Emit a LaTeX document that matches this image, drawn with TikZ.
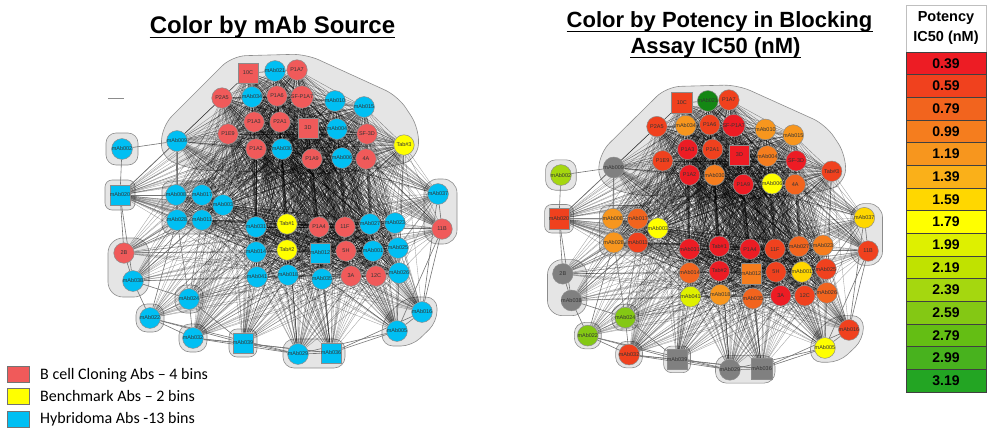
\documentclass[tikz,border=0pt]{standalone}
\usepackage{fontspec}
\setmainfont{Liberation Sans}
\newfontfamily\calib{Carlito}
\pgfdeclarelayer{hull}
\pgfdeclarelayer{edges}
\pgfsetlayers{hull,edges,main}
\definecolor{Lred}{RGB}{240,90,90}
\definecolor{Lblue}{RGB}{0,191,243}
\definecolor{Lyel}{RGB}{255,255,0}
\definecolor{Ngray}{RGB}{128,128,128}
\definecolor{dgreen}{RGB}{20,135,20}
\definecolor{c039}{RGB}{237,28,36}
\definecolor{c059}{RGB}{240,65,30}
\definecolor{c079}{RGB}{242,100,30}
\definecolor{c099}{RGB}{245,125,30}
\definecolor{c119}{RGB}{247,150,30}
\definecolor{c139}{RGB}{250,176,25}
\definecolor{c159}{RGB}{255,215,0}
\definecolor{c179}{RGB}{255,255,0}
\definecolor{c199}{RGB}{222,240,0}
\definecolor{c219}{RGB}{192,226,0}
\definecolor{c239}{RGB}{165,215,15}
\definecolor{c259}{RGB}{132,200,20}
\definecolor{c279}{RGB}{100,190,20}
\definecolor{c299}{RGB}{72,178,30}
\definecolor{c319}{RGB}{35,165,35}

\def\netnodes{n10C/248/73/rectangle/Lred/c059/10C,
nmAb021/275/71/circle/Lblue/dgreen/mAb021,
nP1A7/297/70/circle/Lred/c059/P1A7,
nP2A5/222/98/circle/Lred/c059/P2A5,
nmAb034/252/97/circle/Lblue/c119/mAb034,
nP1A6/277/96/circle/Lred/c059/P1A6,
nSFP1A7/302/97/circle/Lred/c039/SF-P1A7,
nP1A3/254/122/circle/Lred/c039/P1A3,
nP2A1/280/122/circle/Lred/c059/P2A1,
nP1E9/228/134/circle/Lred/c059/P1E9,
n3D/308/128/rectangle/Lred/c039/3D,
nP1A2/256/149/circle/Lred/c039/P1A2,
nmAb030/282/149/circle/Lblue/c099/mAb030,
nmAb010/335/101/circle/Lblue/c119/mAb010,
nmAb015/364/107/circle/Lblue/c119/mAb015,
nmAb004/337/129/circle/Lblue/c099/mAb004,
nSF3D/367/134/circle/Lred/c039/SF-3D,
nTab3/404/145/circle/Lyel/c059/Tab\#3,
nP1A9/312/159/circle/Lred/c039/P1A9,
nmAb006/342/158/circle/Lblue/c179/mAb006,
n4A/366/159/circle/Lred/c079/4A,
nmAb009/177/141/circle/Lblue/Ngray/mAb009,
nmAb002/122/149/circle/Lblue/c239/mAb002,
nmAb020/120/195/rectangle/Lblue/c059/mAb020,
nmAb008/176/195/circle/Lblue/c119/mAb008,
nmAb017/202/195/circle/Lblue/c079/mAb017,
nmAb003/223/205/circle/Lblue/c179/mAb003,
nmAb028/177/220/circle/Lblue/c119/mAb028,
nmAb011/202/220/circle/Lblue/c059/mAb011,
nmAb031/256/227/circle/Lblue/c039/mAb031,
nTab1/287/224/circle/Lyel/c039/Tab\#1,
n2B/124/253/circle/Lred/Ngray/2B,
nmAb014/256/252/circle/Lblue/c079/mAb014,
nTab2/287/250/circle/Lyel/c039/Tab\#2,
nmAb038/133/281/circle/Lblue/Ngray/mAb038,
nmAb041/257/277/circle/Lblue/c199/mAb041,
nmAb018/288/275/circle/Lblue/c119/mAb018,
nmAb024/189/299/circle/Lblue/c259/mAb024,
nmAb022/150/318/circle/Lblue/c259/mAb022,
nmAb032/193/338/circle/Lblue/c059/mAb032,
nmAb039/243/343/rectangle/Lblue/Ngray/mAb039,
nmAb029/298/354/circle/Lblue/Ngray/mAb029,
nmAb036/331/353/rectangle/Lblue/Ngray/mAb036,
nmAb037/438/194/circle/Lblue/c159/mAb037,
nP1A4/319/227/circle/Lred/c039/P1A4,
n11F/345/227/circle/Lred/c059/11F,
nmAb027/370/224/circle/Lblue/c079/mAb027,
nmAb023/395/223/circle/Lblue/c099/mAb023,
n11B/442/229/circle/Lred/c059/11B,
nmAb012/320/253/rectangle/Lblue/c099/mAb012,
n5H/346/251/circle/Lred/c059/5H,
nmAb001/373/251/circle/Lblue/c159/mAb001,
nmAb025/398/248/circle/Lblue/c059/mAb025,
nmAb035/322/279/circle/Lblue/c079/mAb035,
n3A/351/276/circle/Lred/c039/3A,
n12C/376/276/circle/Lred/c059/12C,
nmAb026/399/273/circle/Lblue/c079/mAb026,
nmAb016/422/312/circle/Lblue/c059/mAb016,
nmAb005/397/331/circle/Lblue/c179/mAb005}

\def\corelist{n10C,nmAb021,nP1A7,nP2A5,nmAb034,nP1A6,nSFP1A7,nP1A3,nP2A1,nP1E9,n3D,nP1A2,nmAb030,nmAb010,nmAb015,nmAb004,nSF3D,nTab3,nP1A9,nmAb006,n4A,nmAb031,nTab1,nTab2,nmAb014,nmAb041,nmAb018,nP1A4,n11F,nmAb027,nmAb023,nmAb012,n5H,nmAb001,nmAb025,nmAb035,n3A,n12C,nmAb026,nmAb003}
\def\periA{nmAb009,nmAb020,nmAb008,nmAb017,nmAb028,nmAb011,nmAb037,n11B,nmAb005,nmAb016,nmAb029,nmAb036,nmAb039,nmAb032}
\def\periB{n2B,nmAb038,nmAb022,nmAb024}

\tikzset{
 ab/.style={draw=black!45, line width=0.5pt, minimum size=20.5pt, inner sep=0pt,
   font=\fontsize{5.5}{5.5}\selectfont, text=black!80},
 coreedge/.style={draw=black, draw opacity=0.5, line width=0.3pt},
 periedge/.style={draw=black, draw opacity=0.38, line width=0.35pt},
 linkedge/.style={draw=black!55, line width=0.6pt},
 hull/.style={fill=black!10, draw=black!45, line width=0.6pt},
 rowcell/.style={draw=black!75, line width=0.5pt, minimum width=80pt, minimum height=22.67pt,
   inner sep=0pt, font=\bfseries\fontsize{14}{14}\selectfont},
 legbox/.style={draw=black!55, line width=0.6pt, minimum width=22pt, minimum height=16pt, inner sep=0pt},
 legtext/.style={anchor=base west, inner sep=0pt, font=\calib\fontsize{16}{16}\selectfont},
 ttl/.style={anchor=base, inner sep=0pt},
}

\newcommand\drawhulls{%
 \draw[hull, rounded corners=14pt] (161,158) -- (162,126) -- (232,56) -- (306,54) -- (398,96) -- (419,128) -- (418,158) -- (396,166) -- (330,174) -- (195,170) -- cycle;
 \draw[hull, rounded corners=10pt] (106,133) rectangle (138,165);
 \draw[hull, rounded corners=7pt] (105,180) rectangle (135,210);
 \draw[hull, rounded corners=9pt] (162,181) rectangle (216,234);
 \draw[hull, rounded corners=15pt] (108,238) rectangle (149,297);
 \draw[hull, rounded corners=11pt] (175,285) rectangle (203,313);
 \draw[hull, rounded corners=11pt] (136,304) rectangle (164,332);
 \draw[hull, rounded corners=11pt] (179,324) rectangle (207,352);
 \draw[hull, rounded corners=8pt] (229,329) rectangle (257,357);
 \draw[hull, rounded corners=11pt] (283,339) rectangle (345,368);
 \draw[hull, rounded corners=11pt] (382,320) -- (406,297) -- (437,297) -- (437,322) -- (412,346) -- (382,346) -- cycle;
 \draw[hull, rounded corners=14pt] (424,179) rectangle (457,244);
}
\newcommand\drawedges{%
 \foreach \a [count=\i] in \corelist {\foreach \b [count=\j] in \corelist {\ifnum\j>\i\relax\draw[coreedge] (\a) -- (\b);\fi}}
 \foreach \p in \periA {\foreach \c in \corelist {\draw[periedge] (\p) -- (\c);}}
 \foreach \p in \periB {\foreach \c [count=\k] in \corelist {\ifodd\k\relax\draw[periedge] (\p) -- (\c);\fi}}
 \foreach \a/\b in {nmAb002/nmAb009, nmAb002/nmAb020, nmAb020/nmAb009, nmAb020/n2B, nmAb020/nmAb038,
   n2B/nmAb038, nmAb038/nmAb022, nmAb022/nmAb024, nmAb022/nmAb032, nmAb024/nmAb032, nmAb032/nmAb039,
   nmAb039/nmAb029, nmAb029/nmAb036, nmAb036/nmAb005, nmAb005/nmAb016, nmAb016/n11B, n11B/nmAb037,
   nmAb009/nmAb008, nmAb009/nmAb028, nmAb020/nmAb008, nmAb020/nmAb028, nmAb020/nmAb017, nmAb020/nmAb011,
   n2B/nmAb028, n2B/nmAb011, nmAb038/nmAb028, nmAb038/nmAb011, nmAb024/nmAb028, nmAb024/nmAb011,
   nmAb022/nmAb028, nmAb038/nmAb024, nmAb022/nmAb039, nmAb032/nmAb029, nmAb022/nmAb029, nmAb039/nmAb036,
   nmAb032/nmAb036, nmAb029/nmAb005, nmAb036/nmAb016, nmAb005/n11B, nmAb016/nmAb037, nmAb008/nmAb028,
   nmAb017/nmAb011, nmAb008/nmAb017, nmAb028/nmAb011, nmAb024/nmAb039}
   {\draw[linkedge] (\a) -- (\b);}
 \draw[black!60, dashed, line width=0.4pt] (nmAb011) -- (nmAb014);
}

\begin{document}
\begin{tikzpicture}[x=1pt, y=-1pt]
\useasboundingbox (0,0) rectangle (987,437);

% ---- left panel: colour by source
\begin{scope}[name prefix=L-]
 \foreach \nm/\x/\y/\shp/\ca/\cb/\lab in \netnodes {\node[ab, shape=\shp, fill=\ca] (\nm) at (\x,\y) {\lab};}
 \begin{pgfonlayer}{edges}\drawedges\end{pgfonlayer}
 \begin{pgfonlayer}{hull}\drawhulls\end{pgfonlayer}
 \draw[black!45, line width=0.8pt] (108,98) -- (124,98);
\end{scope}

% ---- right panel: colour by potency
\begin{scope}[shift={(443.8,33.5)}, xscale=0.96, yscale=0.95, name prefix=R-]
 \foreach \nm/\x/\y/\shp/\ca/\cb/\lab in \netnodes {\node[ab, shape=\shp, fill=\cb] (\nm) at (\x,\y) {\lab};}
 \begin{pgfonlayer}{edges}\drawedges\end{pgfonlayer}
 \begin{pgfonlayer}{hull}\drawhulls\end{pgfonlayer}
\end{scope}

% ---- titles
\node[ttl, font=\bfseries\fontsize{24}{26}\selectfont] (t1) at (272.5,33) {Color by mAb Source};
\draw[line width=1.6pt] ([yshift=-4.5pt]t1.base west) -- ([yshift=-4.5pt]t1.base east);
\node[ttl, font=\bfseries\fontsize{22}{24}\selectfont] (t2a) at (719.5,27) {Color by Potency in Blocking};
\draw[line width=1.5pt] ([yshift=-4.5pt]t2a.base west) -- ([yshift=-4.5pt]t2a.base east);
\node[ttl, font=\bfseries\fontsize{22}{24}\selectfont] (t2b) at (715.5,53) {Assay IC50 (nM)};
\draw[line width=1.5pt] ([yshift=-4.5pt]t2b.base west) -- ([yshift=-4.5pt]t2b.base east);

% ---- potency scale
\node[draw=black!25, fill=white, minimum width=80pt, minimum height=47pt, inner sep=0pt, align=center,
  font=\bfseries\fontsize{14.5}{20}\selectfont] (hdr) at (946,28.5) {Potency\\IC50 (nM)};
\foreach \v/\c [count=\i] in {0.39/c039,0.59/c059,0.79/c079,0.99/c099,1.19/c119,1.39/c139,1.59/c159,1.79/c179,1.99/c199,2.19/c219,2.39/c239,2.59/c259,2.79/c279,2.99/c299,3.19/c319}
 {\node[rowcell, fill=\c] (row\i) at (946,{52+(\i-0.5)*22.667}) {\v};}

% ---- source legend
\node[legbox, fill=Lred] (k1) at (18,374) {};
\node[legtext] (k1t) at (40,379) {B cell Cloning Abs – 4 bins};
\node[legbox, fill=Lyel] (k2) at (18,396) {};
\node[legtext] (k2t) at (40,401.5) {Benchmark Abs – 2 bins};
\node[legbox, fill=Lblue] (k3) at (18,419) {};
\node[legtext] (k3t) at (40,423.5) {Hybridoma Abs -13 bins};
\end{tikzpicture}
\end{document}
